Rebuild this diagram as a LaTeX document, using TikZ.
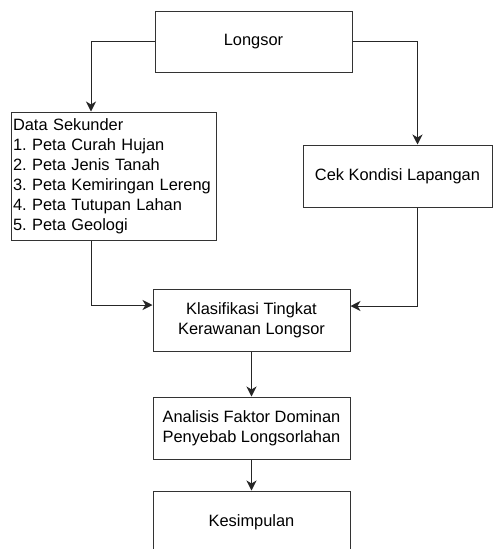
\documentclass[tikz,border=0pt]{standalone}
\usepackage{fontspec}
\setmainfont{Liberation Sans}
\usetikzlibrary{arrows.meta}
\frenchspacing
\begin{document}
\begin{tikzpicture}[x=1pt,y=-1pt,
    box/.style={shape=rectangle, draw=black!80, line width=1pt, inner sep=2pt, align=center,
      font=\fontsize{16.4}{19.7}\selectfont},
    link/.style={draw=black!85, line width=1pt, -{Stealth[length=10pt,width=10pt,inset=3pt]}},
  ]
    \useasboundingbox (0,0) rectangle (493,549);

    \node[box, minimum width=197pt, minimum height=61pt] (longsor) at (253.5,41.5) {Longsor};

    \node[box, minimum width=205pt, minimum height=128pt, text width=201pt, align=left,
      font=\fontsize{16.4}{20}\selectfont] (data) at (113.5,176)
      {Data Sekunder\\1. Peta Curah Hujan\\2. Peta Jenis Tanah\\3. Peta Kemiringan Lereng\\4. Peta Tutupan Lahan\\5. Peta Geologi};

    \node[box, minimum width=189pt, minimum height=62pt] (cek) at (397.5,176) {Cek Kondisi Lapangan};

    \node[box, minimum width=197pt, minimum height=62pt] (klas) at (251.5,320) {Klasifikasi Tingkat\\Kerawanan Longsor};
    \node[box, minimum width=197pt, minimum height=62pt] (analisis) at (251.5,428) {Analisis Faktor Dominan\\Penyebab Longsorlahan};
    \node[box, minimum width=197pt, minimum height=62pt] (simpul) at (251.5,522) {Kesimpulan};

    \draw[link] (longsor.west) -| ([xshift=-22.5pt]data.north);
    \draw[link] (longsor.east) -| ([xshift=20pt]cek.north);

    \draw[link] ([xshift=-22.5pt]data.south) |- ([yshift=15pt]klas.west);
    \draw[link] ([xshift=20pt]cek.south) |- ([yshift=14pt]klas.east);

    \draw[link] (klas) -- (analisis);
    \draw[link] (analisis) -- (simpul);

  \end{tikzpicture}
\end{document}
